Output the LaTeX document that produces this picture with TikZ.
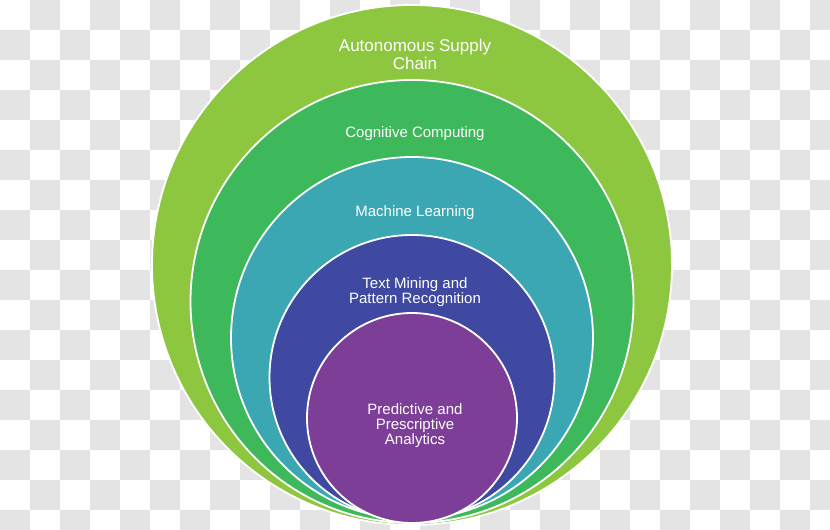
\documentclass[tikz,border=0pt]{standalone}
\usepackage{fontspec}
\setmainfont{Liberation Sans}
\definecolor{checkgray}{HTML}{E4E4E4}
\definecolor{limegreen}{HTML}{8DC63F}
\definecolor{leafgreen}{HTML}{3DB85A}
\definecolor{tealblue}{HTML}{3AA7B3}
\definecolor{indigo}{HTML}{3F49A2}
\definecolor{plum}{HTML}{7D3E97}
\begin{document}
\begin{tikzpicture}[x=1pt, y=-1pt,
	ring/.style={circle, draw=white, line width=.025in, inner sep=0pt},
	lbl/.style={text=white, align=center, font=\fontsize{15}{15}\selectfont}]
		\clip (0,0) rectangle (830,530);
		\fill[white] (0,0) rectangle (830,530);
		\foreach \i in {0,...,27}
			\foreach \j in {0,...,17} {
				\pgfmathtruncatemacro\odd{mod(\i+\j,2)}
				\ifnum\odd=1 \fill[checkgray] (30*\i,30*\j) rectangle ++(30,30); \fi
			}
		\node[ring, fill=limegreen, minimum size=520pt] (A) at (412,265) {};
		\node[ring, fill=leafgreen, minimum size=443pt] (B) at (412,301.5) {};
		\node[ring, fill=tealblue, minimum size=362pt] (C) at (412,338) {};
		\node[ring, fill=indigo, minimum size=285pt] (D) at (412,377.5) {};
		\node[ring, fill=plum, minimum size=210pt] (E) at (412,418) {};
		
		\node[lbl, font=\fontsize{17}{18}\selectfont] (A0) at (415,54) {Autonomous Supply\\Chain};
		\node[lbl] (B0) at (415,134) {Cognitive Computing};
		\node[lbl] (C0) at (415,213) {Machine Learning};
		\node[lbl] (D0) at (415,292.5) {Text Mining and\\Pattern Recognition};
		\node[lbl] (E0) at (415,426) {Predictive and\\Prescriptive\\Analytics};
	\end{tikzpicture}
\end{document}
